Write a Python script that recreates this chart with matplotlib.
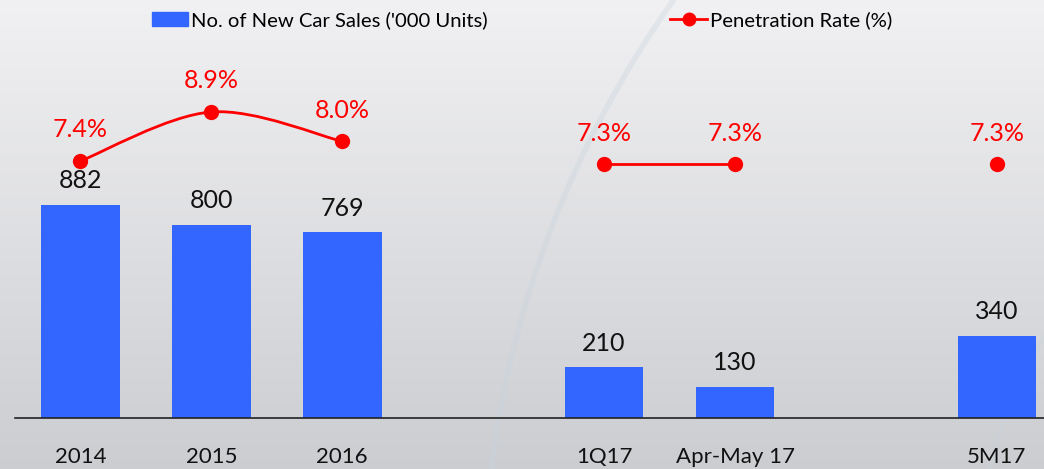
import numpy as np
import matplotlib.pyplot as plt
from matplotlib.patches import Patch, Circle, PathPatch
from matplotlib.lines import Line2D
from matplotlib.path import Path

plt.rcParams['font.family'] = ['Lato', 'DejaVu Sans']

# data
categories = ['2014', '2015', '2016', '', '1Q17', 'Apr-May 17', '', '5M17']
sales = [882, 800, 769, None, 210, 130, None, 340]
rate = [7.4, 8.9, 8.0, None, 7.3, 7.3, None, 7.3]
rate_groups = [[0, 1, 2], [4, 5], [7]]  # which points are joined
smooth_groups = [True, False, False]

bar_color = '#3366ff'
red = '#ff0000'

fig = plt.figure(figsize=(10.44, 4.69), dpi=100)

# background gradient
bg = fig.add_axes([0, 0, 1, 1], zorder=-10)
top = np.array([0.945, 0.945, 0.953])
bot = np.array([0.80, 0.805, 0.82])
t = np.linspace(0, 1, 256)[:, None, None]
grad = top * (1 - t) + bot * t
grad = np.repeat(grad, 2, axis=1)
bg.imshow(grad, extent=[0, 1044, 469, 0], aspect='auto')
bg.add_patch(Circle((1517, 598), 1034, fill=False, ec='#c8d4de', lw=4, alpha=0.35))
bg.add_patch(Circle((1400, 560), 420, fill=False, ec='#c8d4de', lw=3, alpha=0.3))
bg.set_xlim(0, 1044)
bg.set_ylim(469, 0)
bg.axis('off')

ax = fig.add_axes([15 / 1044, 51 / 469, 1 - 15 / 1044, 358 / 469])
ax.patch.set_alpha(0)
x = np.arange(len(categories))
bx = [i for i, v in enumerate(sales) if v is not None]
bv = [sales[i] for i in bx]
bars = ax.bar(bx, bv, width=0.6, color=bar_color, zorder=2)
for xi, v in zip(bx, bv):
    ax.annotate(str(v), (xi, v), xytext=(0, 12), textcoords='offset points',
                ha='center', va='baseline', fontsize=18, color='#111111')

ax.set_xlim(-0.5, 7.36)
ax.set_ylim(0, 1482)
ax.set_xticks(x)
ax.set_xticklabels(categories, fontsize=16, color='#111111')
ax.tick_params(axis='x', length=0, pad=21)
ax.set_yticks([])
for s in ['top', 'right', 'left']:
    ax.spines[s].set_visible(False)
ax.spines['bottom'].set_color('#222222')
ax.spines['bottom'].set_linewidth(1.2)

ax2 = ax.twinx()
ax2.set_ylim(-0.459, 10.489)
ax2.axis('off')

for grp, smooth in zip(rate_groups, smooth_groups):
    px = np.array(grp, dtype=float)
    py = np.array([rate[i] for i in grp])
    if len(grp) > 1:
        if smooth:
            pts = np.column_stack([px, py])
            ext = np.vstack([pts[0], pts, pts[-1]])
            verts = [tuple(pts[0])]
            codes = [Path.MOVETO]
            for k in range(len(pts) - 1):
                p0, p1, p2, p3 = ext[k], ext[k + 1], ext[k + 2], ext[k + 3]
                c1 = p1 + (p2 - p0) / 6
                c2 = p2 - (p3 - p1) / 6
                verts += [tuple(c1), tuple(c2), tuple(p2)]
                codes += [Path.CURVE4] * 3
            ax2.add_patch(PathPatch(Path(verts, codes), fill=False, ec=red, lw=2, zorder=3))
        else:
            ax2.plot(px, py, color=red, lw=2, zorder=3)
    ax2.plot(px, py, 'o', color=red, ms=10, zorder=4)
    for xi, v in zip(px, py):
        ax2.annotate(f'{v:.1f}%', (xi, v), xytext=(0, 17), textcoords='offset points',
                     ha='center', va='baseline', fontsize=18, color=red)

handles = [Patch(color=bar_color),
           Line2D([], [], color=red, lw=2, marker='o', ms=9)]
labels = ["No. of New Car Sales ('000 Units)", 'Penetration Rate (%)']
fig.legend(handles, labels, loc='center', bbox_to_anchor=(0.500, 0.957), ncol=2,
           frameon=False, fontsize=14.6, columnspacing=9.0, handlelength=1.8,
           handletextpad=0.15, borderpad=0)

fig.savefig('out.png', dpi=100)
